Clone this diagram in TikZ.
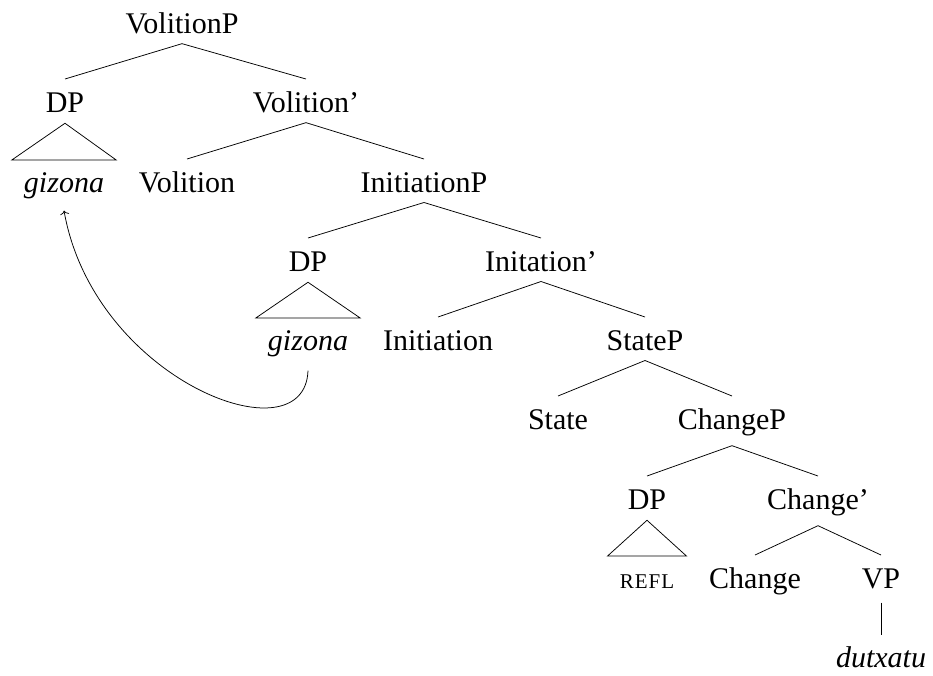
\documentclass[tikz,border=0pt]{standalone}
\usepackage{fontspec}
\setmainfont{Liberation Serif}
\usetikzlibrary{calc,arrows.meta}
\begin{document}
\begin{tikzpicture}[x=1pt,y=-1pt,
  lab/.style={anchor=base,inner sep=0pt,font=\fontsize{30}{32}\selectfont},
  edge/.style={line width=0.75pt},
  ]
\useasboundingbox (0,0) rectangle (933,675);

% labels, placed on their baselines
\node[lab] (vp)   at (182,33)  {VolitionP};
\node[lab] (dp1)  at (65,112)  {DP};
\node[lab] (vb)   at (306,112) {Volition'};
\node[lab] (g1)   at (64,192)  {\itshape gizona};
\node[lab] (v)    at (187,192) {Volition};
\node[lab] (ip)   at (424,192) {InitiationP};
\node[lab] (dp2)  at (308,271) {DP};
\node[lab] (ib)   at (541,271) {Initation'};
\node[lab] (g2)   at (308,350) {\itshape gizona};
\node[lab] (i)    at (438,350) {Initiation};
\node[lab] (sp)   at (645,350) {StateP};
\node[lab] (s)    at (558,429) {State};
\node[lab] (cp)   at (732,429) {ChangeP};
\node[lab] (dp3)  at (647,509) {DP};
\node[lab] (cb)   at (818,509) {Change'};
\node[lab] (refl) at (647,588) {\fontsize{21}{23}\selectfont\addfontfeature{LetterSpace=5}REFL};
\node[lab] (c)    at (755,588) {Change};
\node[lab] (vpn)  at (881,588) {VP};
\node[lab] (dut)  at (881,667) {\itshape dutxatu};

% branches and roofs
\newcommand\branch[2]{\draw[edge] ($(#1.south)+(0,10)$) -- ($(#2.base)+(0,-33)$);}
\newcommand\roof[2]{\draw[edge] ($(#1.south)+(0,11)$) -- ($(#2.base east)+(12,-32)$)
  -- ($(#2.base west)+(-12,-32)$) -- cycle;}

\branch{vp}{dp1}  \branch{vp}{vb}
\branch{vb}{v}    \branch{vb}{ip}
\branch{ip}{dp2}  \branch{ip}{ib}
\branch{ib}{i}    \branch{ib}{sp}
\branch{sp}{s}    \branch{sp}{cp}
\branch{cp}{dp3}  \branch{cp}{cb}
\branch{cb}{c}    \branch{cb}{vpn}
\draw[edge] ($(vpn.south)+(0,14)$) -- ($(dut.base)+(0,-32)$);

\roof{dp1}{g1}
\roof{dp2}{g2}
\roof{dp3}{refl}

% movement arrow
\draw[edge,-{To[length=4pt,width=9pt]}] ($(g2.south)+(0,14)$) .. controls +(-3,90) and +(30,170) .. ($(g1.south)+(0,12)$);
\end{tikzpicture}
\end{document}
